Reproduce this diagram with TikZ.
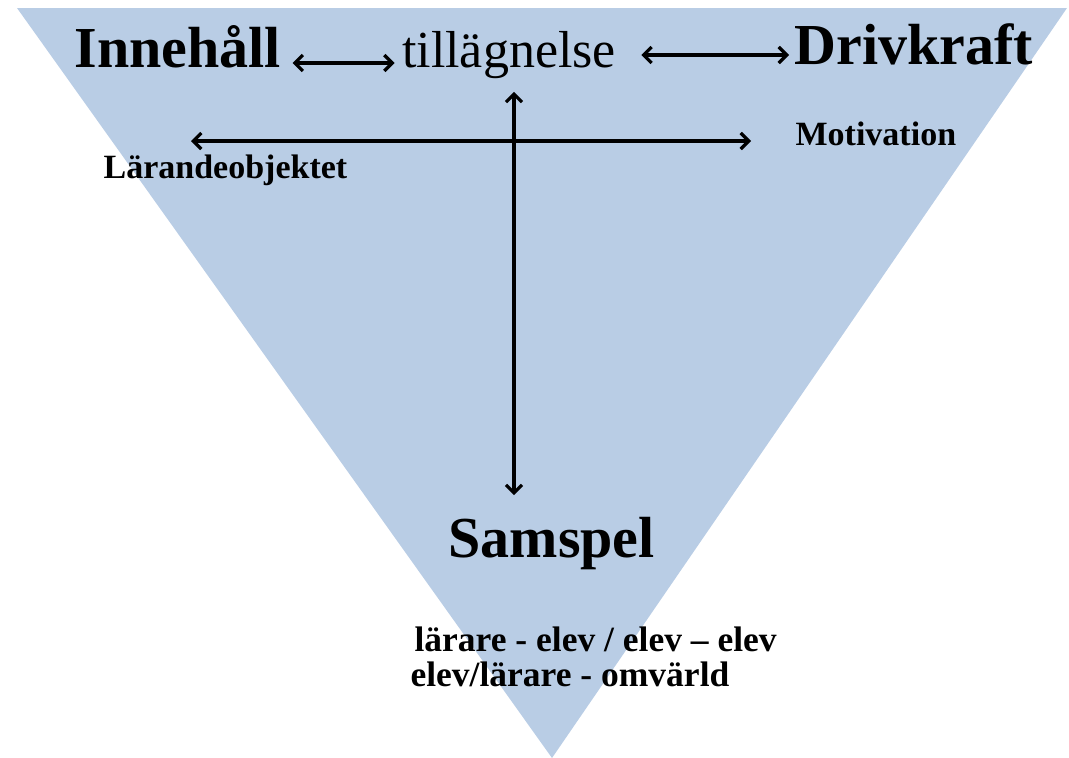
\documentclass[tikz,border=0pt]{standalone}
\usepackage{fontspec}
\setmainfont{Liberation Serif}
\usetikzlibrary{arrows.meta}
\usetikzlibrary{positioning}
\definecolor{trifill}{HTML}{B9CDE5}
\tikzset{
    big/.style = {inner sep=0pt, font=\fontsize{58}{60}\selectfont\bfseries},
    mid/.style = {inner sep=0pt, font=\fontsize{52}{54}\selectfont},
    small/.style = {inner sep=0pt, font=\fontsize{34}{36}\selectfont\bfseries},
    rel/.style = {inner sep=0pt, font=\fontsize{35.5}{37}\selectfont\bfseries},
}

\begin{document}
\begin{tikzpicture}[x=1pt,y=-1pt,>={Straight Barb[length=8pt,width=16pt]},line width=3.2pt]
 \useasboundingbox (0,0) rectangle (1069,758);
 \fill[trifill] (17,8) -- (1067,8) -- (552,758) -- cycle;
 \node (inn)  [big,anchor=base west] at (73,67) {Innehåll};
 \node (till) [mid,base right=118pt of inn] {tillägnelse};
 \node (driv) [big,anchor=base west] at (793,64) {Drivkraft};
 \node (lar)  [small,anchor=base west] at (102,178) {Lärandeobjektet};
 \node (mot)  [small,anchor=base west] at (794,145) {Motivation};
 \node (samsp) [big,anchor=base west] at (447,557) {Samspel};
 \node (rel1) [rel,anchor=base west] at (413,651) {lärare - elev / elev – elev};
 \node (rel2) [rel,anchor=base west] at (409,686) {elev/lärare - omvärld};
 \coordinate (vtop) at ([xshift=5pt,yshift=-12pt]till.south);

\draw[<->] ([xshift=10pt,yshift=4pt]inn.base east) to ([xshift=-6pt,yshift=4pt]till.base west);
\draw[<->] ([xshift=24pt,yshift=12pt]till.base east) to ([xshift=-4pt,yshift=9pt]driv.base west);
\draw[<->] ([xshift=89pt,yshift=37pt]lar.base west) to ([xshift=-43pt,yshift=4pt]mot.base west);
\draw[<->,shorten >=20pt] (vtop) to (vtop |- samsp.north);
\end{tikzpicture}
\end{document}
